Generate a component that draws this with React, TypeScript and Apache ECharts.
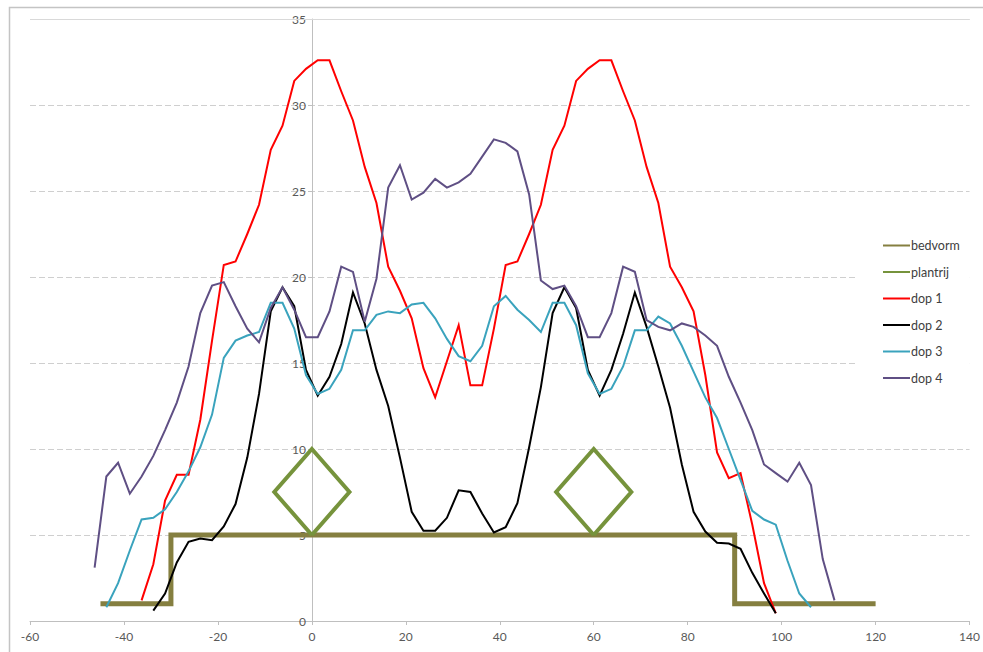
import React, { useEffect, useRef } from "react";
import * as echarts from "echarts";

// Bed profile (bedvorm) and the two plant-row diamonds (plantrij)
const bedvormX = [-45, -30, -30, 90, 90, 120];
const bedvormY = [1, 1, 5, 5, 1, 1];
const plantrijAX = [0, 8, 0, -8, 0];
const plantrijAY = [5, 7.5, 10, 7.5, 5];
const plantrijBX = [60, 68, 60, 52, 60];
const plantrijBY = [5, 7.5, 10, 7.5, 5];

// Nozzle distributions (dop 1..4)
const dop1X = [
  -36.25, -33.75, -31.25, -28.75, -26.25, -23.75, -21.25, -18.75, -16.25, -13.75, -11.25,
  -8.75, -6.25, -3.75, -1.25, 1.25, 3.75, 6.25, 8.75, 11.25, 13.75, 16.25, 18.75, 21.25,
  23.75, 26.25, 28.75, 31.25, 33.75, 36.25, 38.75, 41.25, 43.75, 46.25, 48.75, 51.25,
  53.75, 56.25, 58.75, 61.25, 63.75, 66.25, 68.75, 71.25, 73.75, 76.25, 78.75, 81.25,
  83.75, 86.25, 88.75, 91.25, 93.75, 96.25, 98.75,
];
const dop1Y = [
  1.2, 3.3, 7.0, 8.5, 8.5, 11.7, 16.3, 20.7, 20.9, 22.5, 24.2,
  27.4, 28.8, 31.4, 32.1, 32.6, 32.6, 30.8, 29.1, 26.4, 24.3, 20.6, 19.2, 17.6,
  14.7, 13.0, 15.1, 17.2, 13.7, 13.7, 17.0, 20.7, 20.9, 22.5, 24.2, 27.4,
  28.8, 31.4, 32.1, 32.6, 32.6, 30.8, 29.1, 26.4, 24.3, 20.6, 19.4, 18.0,
  14.3, 9.8, 8.3, 8.6, 5.6, 2.2, 0.45,
];

const dop2X = [
  -33.75, -31.25, -28.75, -26.25, -23.75, -21.25, -18.75, -16.25, -13.75, -11.25,
  -8.75, -6.25, -3.75, -1.25, 1.25, 3.75, 6.25, 8.75, 11.25, 13.75, 16.25, 18.75, 21.25,
  23.75, 26.25, 28.75, 31.25, 33.75, 36.25, 38.75, 41.25, 43.75, 46.25, 48.75, 51.25,
  53.75, 56.25, 58.75, 61.25, 63.75, 66.25, 68.75, 71.25, 73.75, 76.25, 78.75, 81.25,
  83.75, 86.25, 88.75, 91.25, 93.75, 96.25, 98.75,
];
const dop2Y = [
  0.6, 1.6, 3.4, 4.6, 4.8, 4.7, 5.5, 6.8, 9.5, 13.2,
  18.0, 19.4, 18.3, 14.6, 13.1, 14.2, 16.1, 19.1, 17.3, 14.6, 12.5, 9.5, 6.35,
  5.25, 5.25, 6.0, 7.6, 7.5, 6.25, 5.15, 5.45, 6.85, 10.1, 13.6, 17.9,
  19.4, 18.2, 14.6, 13.1, 14.6, 16.7, 19.1, 17.1, 14.8, 12.4, 9.1, 6.35,
  5.2, 4.55, 4.5, 4.2, 2.8, 1.6, 0.45,
];

const dop3X = [
  -43.75, -41.25, -38.75, -36.25, -33.75, -31.25, -28.75, -26.25, -23.75, -21.25, -18.75,
  -16.25, -13.75, -11.25, -8.75, -6.25, -3.75, -1.25, 1.25, 3.75, 6.25, 8.75, 11.25,
  13.75, 16.25, 18.75, 21.25, 23.75, 26.25, 28.75, 31.25, 33.75, 36.25, 38.75, 41.25,
  43.75, 46.25, 48.75, 51.25, 53.75, 56.25, 58.75, 61.25, 63.75, 66.25, 68.75, 71.25,
  73.75, 76.25, 78.75, 81.25, 83.75, 86.25, 88.75, 91.25, 93.75, 96.25, 98.75, 101.25,
  103.75, 106.25,
];
const dop3Y = [
  0.8, 2.2, 4.1, 5.9, 6.0, 6.5, 7.5, 8.7, 10.1, 12.0, 15.3,
  16.3, 16.6, 16.8, 18.5, 18.5, 17.0, 14.3, 13.2, 13.5, 14.6, 16.9, 16.9,
  17.8, 18.0, 17.9, 18.4, 18.5, 17.6, 16.4, 15.4, 15.1, 16.0, 18.3, 18.9,
  18.1, 17.5, 16.8, 18.5, 18.5, 17.2, 14.4, 13.2, 13.5, 14.8, 16.9, 16.9,
  17.7, 17.3, 16.0, 14.5, 13.0, 11.8, 10.0, 8.2, 6.4, 5.9, 5.6, 3.5,
  1.6, 0.8,
];

const dop4X = [
  -46.25, -43.75, -41.25, -38.75, -36.25, -33.75, -31.25, -28.75, -26.25, -23.75, -21.25,
  -18.75, -16.25, -13.75, -11.25, -8.75, -6.25, -3.75, -1.25, 1.25, 3.75, 6.25, 8.75,
  11.25, 13.75, 16.25, 18.75, 21.25, 23.75, 26.25, 28.75, 31.25, 33.75, 36.25, 38.75,
  41.25, 43.75, 46.25, 48.75, 51.25, 53.75, 56.25, 58.75, 61.25, 63.75, 66.25, 68.75,
  71.25, 73.75, 76.25, 78.75, 81.25, 83.75, 86.25, 88.75, 91.25, 93.75, 96.25, 98.75,
  101.25, 103.75, 106.25, 108.75, 111.25,
];
const dop4Y = [
  3.1, 8.4, 9.2, 7.4, 8.4, 9.6, 11.1, 12.7, 14.8, 17.9, 19.5,
  19.7, 18.3, 17.0, 16.2, 18.2, 19.4, 18.1, 16.5, 16.5, 18.0, 20.6, 20.3,
  17.4, 19.9, 25.2, 26.5, 24.5, 24.9, 25.7, 25.2, 25.5, 26.0, 27.0, 28.0,
  27.8, 27.3, 24.8, 19.8, 19.3, 19.5, 18.3, 16.5, 16.5, 17.9, 20.6, 20.3,
  17.5, 17.1, 16.9, 17.3, 17.1, 16.6, 16.0, 14.2, 12.7, 11.1, 9.1, 8.6,
  8.1, 9.2, 7.9, 3.6, 1.2,
];

const X_MIN = -60;
const X_MAX = 140;
const Y_TOP = 35;

const pairs = (xs: number[], ys: number[]) => xs.map((x, i) => [x, ys[i]]);

const FONT = "Lato, 'Open Sans', sans-serif";
const AXIS_GREY = "#bfbfbf";
const GRID = { left: 30, right: 13, top: 19, bottom: 31 };
const WIDTH = 983;
const HEIGHT = 652;

export default function App() {
  const ref = useRef<HTMLDivElement>(null);

  useEffect(() => {
    if (!ref.current) return;
    const chart = echarts.init(ref.current, undefined, { renderer: "svg" });

    const lineSeries = (name: string, data: number[][], color: string, width: number, z = 3) => ({
      type: "line",
      name,
      data,
      symbol: "none",
      showSymbol: false,
      z,
      lineStyle: { color, width, join: "miter" },
      itemStyle: { color },
    });

    const bed: any = lineSeries("bedvorm", pairs(bedvormX, bedvormY), "#857f40", 5, 2);
    // solid top border of the plot area
    bed.markLine = {
      silent: true,
      symbol: ["none", "none"],
      label: { show: false },
      lineStyle: { color: "#d9d9d9", width: 1, type: "solid" },
      data: [{ yAxis: Y_TOP }],
      z: 1,
    };

    // the vertical axis crosses the horizontal one at x = 0
    const plotWidth = WIDTH - GRID.left - GRID.right;
    const yAxisShift = (plotWidth * (0 - X_MIN)) / (X_MAX - X_MIN);

    chart.setOption({
      animation: false,
      backgroundColor: "#ffffff",
      grid: { ...GRID, containLabel: false },
      graphic: [
        {
          type: "rect",
          left: 7,
          top: 5,
          shape: { width: 1000, height: 700 },
          style: { fill: "none", stroke: "#c4c4c4", lineWidth: 1.5 },
          z: -10,
          silent: true,
        },
      ],
      xAxis: {
        type: "value",
        min: X_MIN,
        max: X_MAX,
        interval: 20,
        axisLine: { show: true, onZero: true, lineStyle: { color: AXIS_GREY, width: 1 } },
        axisTick: { show: true, length: 4, lineStyle: { color: AXIS_GREY } },
        axisLabel: { fontFamily: FONT, fontSize: 12, color: "#595959", margin: 9 },
        splitLine: { show: false },
      },
      yAxis: {
        type: "value",
        min: 0,
        max: Y_TOP,
        interval: 5,
        position: "left",
        offset: -yAxisShift,
        axisLine: { show: true, onZero: false, lineStyle: { color: AXIS_GREY, width: 1 } },
        axisTick: { show: true, length: 4, lineStyle: { color: AXIS_GREY } },
        axisLabel: { fontFamily: FONT, fontSize: 12, color: "#595959", margin: 6 },
        splitLine: {
          show: true,
          lineStyle: { color: "#cfcfcf", width: 1, type: [6, 3] },
        },
      },
      legend: {
        orient: "vertical",
        left: 857,
        top: 228,
        padding: [11, 10, 10, 25],
        itemWidth: 27,
        itemHeight: 14,
        itemGap: 13.5,
        backgroundColor: "#ffffff",
        itemStyle: { color: "transparent", borderWidth: 0, opacity: 0 },
        textStyle: { fontFamily: FONT, fontSize: 12.5, color: "#404040", padding: [0, 0, 0, -4] },
        data: ["bedvorm", "plantrij", "dop 1", "dop 2", "dop 3", "dop 4"],
      },
      series: [
        bed,
        lineSeries("plantrij", pairs(plantrijAX, plantrijAY), "#76933c", 4, 2),
        lineSeries("plantrij", pairs(plantrijBX, plantrijBY), "#76933c", 4, 2),
        lineSeries("dop 1", pairs(dop1X, dop1Y), "#ff0000", 2),
        lineSeries("dop 2", pairs(dop2X, dop2Y), "#000000", 2),
        lineSeries("dop 3", pairs(dop3X, dop3Y), "#3aa3bd", 2),
        lineSeries("dop 4", pairs(dop4X, dop4Y), "#5f4f84", 2),
      ],
    });

    return () => chart.dispose();
  }, []);

  return (
    <div
      ref={ref}
      style={{ position: "absolute", left: 0, top: 0, width: WIDTH, height: HEIGHT, background: "#fff" }}
    />
  );
}
